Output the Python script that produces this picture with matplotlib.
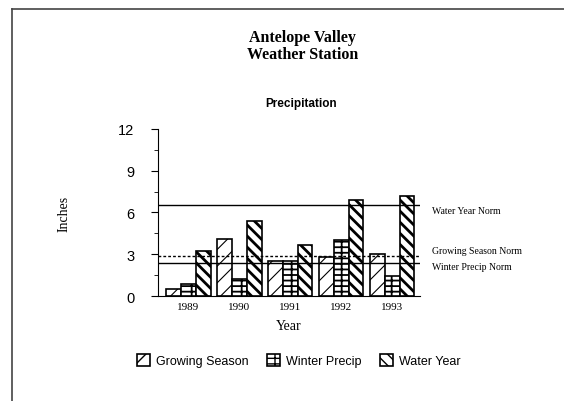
import matplotlib
matplotlib.use('Agg')
import matplotlib.pyplot as plt
import numpy as np

# precipitation data, inches
years = ['1989', '1990', '1991', '1992', '1993']
growing = [0.5, 4.1, 2.5, 2.8, 3.0]
winter = [0.85, 1.2, 2.5, 4.0, 1.45]
water_year = [3.2, 5.4, 3.7, 6.9, 7.2]

norm_names = ['Water Year Norm', 'Growing Season Norm', 'Winter Precip Norm']
norm_values = [6.5, 2.9, 2.35]

serif = 'Liberation Serif'
sans = 'Liberation Sans'

fig = plt.figure(figsize=(5.64, 4.02), dpi=100)
ax = fig.add_axes([0.280, 0.261, 0.465, 0.416])

x = np.arange(len(years))
w = 0.29
bar_sets = [(x - w, growing, '//', 0.8, 'Growing Season'),
            (x, winter, '---|', 1.3, 'Winter Precip'),
            (x + w, water_year, '\\\\\\', 2.0, 'Water Year')]
for pos, vals, hatch, hlw, name in bar_sets:
    with plt.rc_context({'hatch.linewidth': hlw}):
        bars = ax.bar(pos, vals, w, facecolor='white', edgecolor='black',
                      hatch=hatch, lw=1.2, label=name)
    for b in bars:
        if hasattr(b, 'set_hatch_linewidth'):
            b.set_hatch_linewidth(hlw)

styles = ['-', (0, (2, 1.5)), '-']
for val, ls in zip(norm_values, styles):
    ax.axhline(val, color='black', lw=1.0, ls=ls)

ax.set_xlim(-0.6, 4.55)
ax.set_ylim(0, 12)
ax.set_yticks([0, 3, 6, 9, 12])
ax.set_yticks(np.arange(0, 12.1, 1.5), minor=True)
ax.set_xticks(x)
ax.set_xticklabels(years, fontfamily=serif, fontsize=8)
for lab in ax.get_yticklabels():
    lab.set_fontfamily(sans)
    lab.set_fontsize(10.5)
ax.tick_params(axis='y', which='major', length=5, direction='out', pad=12)
ax.tick_params(axis='y', which='minor', length=3)
ax.tick_params(axis='x', length=0, pad=4)
ax.spines['top'].set_visible(False)
ax.spines['right'].set_visible(False)

ax.set_ylabel('Inches', fontfamily=serif, fontsize=10, labelpad=34)
ax.set_xlabel('Year', fontfamily=serif, fontsize=10, labelpad=6)

# norm labels on the right side
ax.text(4.78, 6.15, norm_names[0], fontfamily=serif, fontsize=7, va='center')
ax.text(4.78, 3.3, norm_names[1], fontfamily=serif, fontsize=7, va='center')
ax.text(4.78, 2.1, norm_names[2], fontfamily=serif, fontsize=7, va='center')

fig.text(0.537, 0.885, 'Antelope Valley\nWeather Station', ha='center', va='center',
         fontfamily=serif, fontweight='bold', fontsize=11.5, linespacing=1.05)
fig.text(0.533, 0.742, 'Precipitation', ha='center', va='center',
         fontfamily=sans, fontweight='bold', fontsize=8.5)

fig.legend(loc='center', bbox_to_anchor=(0.53, 0.1), ncol=3, frameon=False,
           prop={'family': sans, 'size': 9}, handlelength=1.0, handleheight=1.0,
           columnspacing=1.5, handletextpad=0.5)

# page border lines from the scan
fig.add_artist(plt.Line2D([0.021, 0.021], [0, 0.975], color='#444444', lw=1.2))
fig.add_artist(plt.Line2D([0.021, 1.0], [0.975, 0.975], color='#444444', lw=1.2))

fig.savefig('out.png', dpi=100)
